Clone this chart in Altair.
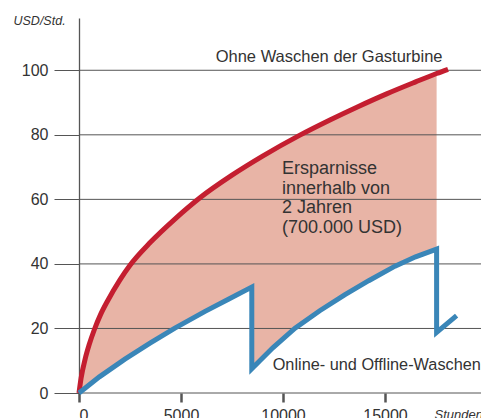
import altair as alt
import pandas as pd

# Values
red_x = [0, 100, 300, 500, 750, 1050, 1406, 2000, 2500, 3500, 4700, 5930, 7500, 9000, 10830, 12300, 13700, 15080, 16500, 17530, 18090]
red_y = [0, 4.5, 10.5, 15.0, 19.6, 24.2, 28.6, 35.0, 39.6, 46.7, 53.9, 60.5, 67.5, 73.4, 79.9, 84.6, 88.8, 92.7, 96.4, 99.0, 100.3]

blue_x = [0, 1000, 2250, 3500, 4700, 6180, 7300, 8470, 8470, 9500, 10590, 11800, 13040, 14200, 15490, 16500, 17530, 17530, 18510]
blue_y = [0, 5.0, 10.5, 15.5, 20.1, 25.3, 29.0, 32.8, 7.5, 14, 20.1, 25.5, 30.5, 34.8, 39.3, 42.2, 44.6, 18.8, 24]

# shaded savings band: upper (red) and lower (blue) edge read at shared positions
band_x = [0, 100, 300, 500, 750, 1050, 1406, 2250, 3500, 4700, 6180, 7300, 8470, 8471, 9500, 10590, 11800, 13040, 14200, 15490, 16500, 17530]
band_top = [0, 4.5, 10.5, 15.0, 19.6, 24.2, 28.6, 37.4, 46.7, 53.9, 61.6, 66.6, 71.3, 71.3, 75.2, 79.0, 83.0, 86.8, 90.2, 93.8, 96.4, 99.0]
band_bottom = [0, 0.5, 1.5, 2.5, 3.8, 5.2, 7.0, 10.5, 15.5, 20.1, 25.3, 29.0, 32.8, 7.5, 14, 20.1, 25.5, 30.5, 34.8, 39.3, 42.2, 44.6]

y_ticks = [0, 20, 40, 60, 80, 100]
x_ticks = [0, 5000, 10000, 15000]

label_red = "Ohne Waschen der Gasturbine"
label_blue = "Online- und Offline-Waschen"
label_save = ["Ersparnisse", "innerhalb von", "2 Jahren", "(700.000 USD)"]
ann_red = (6700, 102.6)
ann_blue = (9495, 7.2)
ann_save = (9950, 67.9)

FONT = "Liberation Sans"
RED = "#C41E30"
BLUE = "#3A86B8"
FILL = "#E8B4A6"
GRID = "#555555"
TXT = "#333333"

red = pd.DataFrame({"h": red_x, "v": red_y})
blue = pd.DataFrame({"h": blue_x, "v": blue_y, "i": list(range(len(blue_x)))})
band = pd.DataFrame({"h": band_x, "v": band_top, "v2": band_bottom})
grid = pd.DataFrame({"v": y_ticks})

xaxis = alt.Axis(values=x_ticks, grid=False, domain=False, tickSize=9, tickWidth=2.5,
                 tickColor=GRID, labelFont=FONT, labelFontSize=16, labelColor=TXT,
                 labelPadding=5, format="d", title="Stunden", titleFont=FONT,
                 titleFontSize=13, titleFontStyle="italic", titleFontWeight="normal",
                 titleColor=TXT, titleX=355, titleY=25.5, titleAlign="left",
                 titleBaseline="alphabetic", titleAnchor="start")
yaxis = alt.Axis(values=y_ticks, grid=False, domain=True, domainColor=GRID, domainWidth=1.3,
                 tickSize=25, tickWidth=1, tickColor=GRID, labelFont=FONT, labelFontSize=16,
                 labelColor=TXT, labelPadding=6, title="USD/Std.", titleFont=FONT,
                 titleFontSize=12.5, titleFontStyle="italic", titleFontWeight="normal",
                 titleColor=TXT, titleAngle=0, titleX=-66, titleY=6, titleAlign="left",
                 titleBaseline="alphabetic")

xs = alt.Scale(domain=[0, 19706], nice=False, zero=False)
ys = alt.Scale(domain=[0, 116.2], nice=False)
X = alt.X("h:Q", scale=xs, axis=xaxis)
Y = alt.Y("v:Q", scale=ys, axis=yaxis)

area = alt.Chart(band).mark_area(color=FILL, interpolate="monotone").encode(
    x=X, y=Y, y2="v2:Q")
rules = alt.Chart(grid).mark_rule(color=GRID, strokeWidth=1).encode(y=Y)
line_red = alt.Chart(red).mark_line(color=RED, strokeWidth=5, interpolate="monotone",
                                    strokeCap="butt").encode(x=X, y=Y)
line_blue = alt.Chart(blue).mark_line(color=BLUE, strokeWidth=5, interpolate="linear",
                                      strokeJoin="miter", strokeCap="butt").encode(
    x=X, y=Y, order=alt.Order("i:Q"))

def txt(pos, text, size, lh=None):
    df = pd.DataFrame({"h": [pos[0]], "v": [pos[1]], "t": [text]})
    kw = dict(align="left", baseline="alphabetic", font=FONT, fontSize=size, color=TXT)
    if lh:
        kw["lineHeight"] = lh
    return alt.Chart(df).mark_text(**kw).encode(x=X, y=Y, text="t")

t1 = txt(ann_red, label_red, 16.5)
t2 = txt(ann_blue, label_blue, 16.3)
t3 = txt(ann_save, label_save, 18, 19.7)

chart = alt.layer(area, rules, line_red, line_blue, t1, t2, t3).properties(
    width=402, height=375,
    autosize=alt.AutoSizeParams(type="none"),
    padding={"left": 71, "top": 10, "right": 0, "bottom": 25},
).configure_view(stroke=None)

chart.save("out.html", embed_options={"renderer": "svg", "actions": False})
